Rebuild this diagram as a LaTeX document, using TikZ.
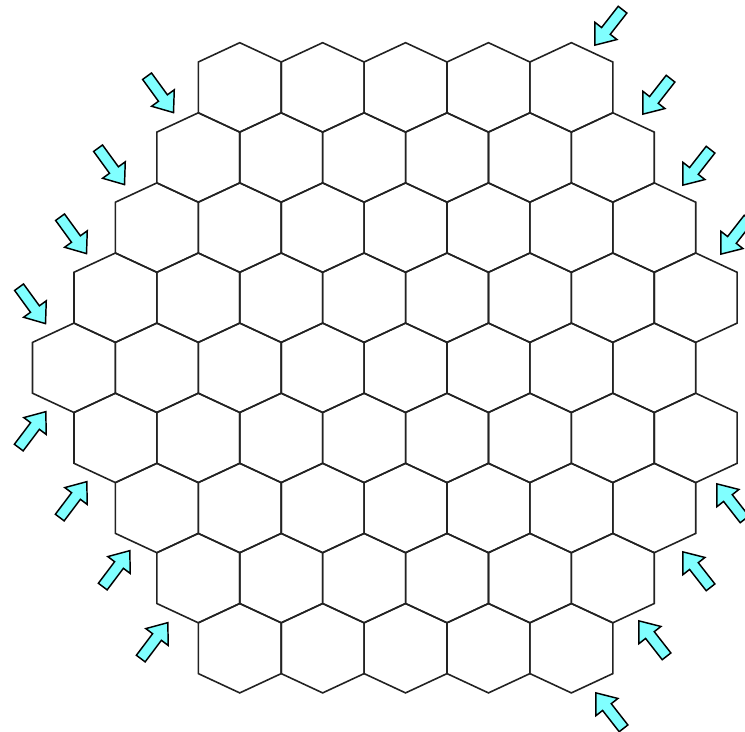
\documentclass[tikz,border=0pt]{standalone}
\definecolor{arrowcyan}{HTML}{80FFFF}
\definecolor{hexgray}{HTML}{222222}
\begin{document}
\begin{tikzpicture}[x=0.75pt,y=-0.75pt,
  hexline/.style={draw=hexgray,line width=1.2pt,line join=miter},
  cyarrow/.style={fill=arrowcyan,draw=black,line width=1.1pt,line join=miter}]
\useasboundingbox (0,0) rectangle (745,731);
% hexagonal board
\foreach \r/\n/\L in {0/5/198.3,1/6/156.85,2/7/115.4,3/8/73.95,4/8/32.5,5/8/73.95,6/7/115.4,7/6/156.85,8/5/198.3}{
  \foreach \j in {1,...,\n}{
    \pgfmathsetmacro\cx{\L+41.45+82.9*(\j-1)}
    \pgfmathsetmacro\cy{87.4+70.1*\r}
    \draw[hexline,shift={(\cx,\cy)}] (0,-44.7) -- (41.45,-25.4) -- (41.45,25.4) -- (0,44.7) -- (-41.45,25.4) -- (-41.45,-25.4) -- cycle;
  }
}
% arrows
\foreach \ax/\ay/\ang in {160/94/-54,111/166/-54,73/235/-54,32/305/-54,
  32/430/53,73/500/53,116/569/53,154/641/53,
  609/27/-128,657/96/-128,697/167/-128,735/236/-128,
  731/502/128,697/570/128,653/639/128,610/711/128}{
  \draw[cyarrow,shift={(\ax,\ay)},rotate=\ang] (-22,-5.5) -- (5,-5.5) -- (5,-14) -- (23,0) -- (5,14) -- (5,5.5) -- (-22,5.5) -- cycle;
}
\end{tikzpicture}
\end{document}
